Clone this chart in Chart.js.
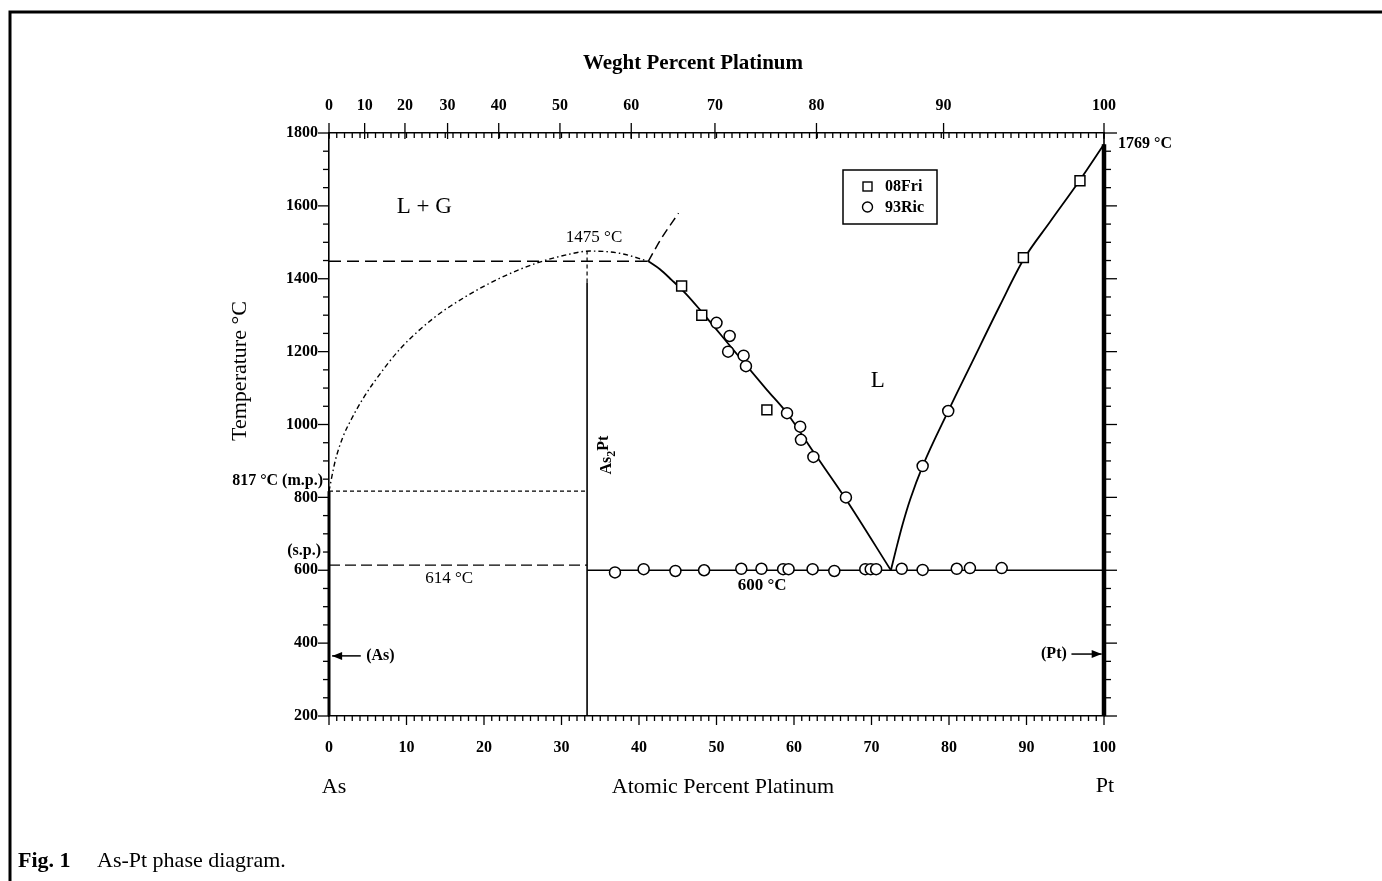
<!DOCTYPE html>
<html>
<head>
<meta charset="utf-8">
<script src="https://cdn.jsdelivr.net/npm/chart.js@4/dist/chart.umd.min.js"></script>
<style>
  html, body { margin: 0; padding: 0; background: #fff; }
</style>
</head>
<body>
<canvas id="phase" width="1382" height="881"></canvas>
<script>
// measured points (atomic % Pt, temperature °C)
const friX = [45.5, 48.1, 56.5, 89.6, 96.9];
const friT = [1380, 1300, 1040, 1458, 1669];

const ricX = [50.0, 51.7, 51.5, 53.5, 53.8, 59.1, 60.8, 60.9, 62.5, 66.7, 76.6, 79.9,
              36.9, 40.6, 44.7, 48.4, 53.2, 55.8, 58.6, 59.3, 62.4, 65.2, 69.2, 69.9, 70.6, 73.9, 76.6, 81.0, 82.7, 86.8];
const ricT = [1279, 1243, 1200, 1189, 1160, 1031, 994, 958, 911, 800, 886, 1037,
              594, 603, 598, 600, 604, 604, 603, 603, 603, 598, 603, 603, 603, 604, 601, 604, 606, 606];

// phase boundaries
const liqLeftX = [41.2, 42.7, 44.2, 46.0, 47.9, 52.2, 56.5, 59.1, 62.5, 66.7, 72.5];
const liqLeftT = [1448, 1426, 1397, 1360, 1314, 1204, 1095, 1031, 925, 795, 600];
const liqRightX = [72.5, 73.2, 74.0, 75.0, 76.6, 79.9, 83.0, 86.6, 89.6, 93.0, 96.9, 100];
const liqRightT = [600, 660, 725, 795, 886, 1037, 1172, 1328, 1452, 1555, 1671, 1769];
const gasX = [0, 0.8, 1.8, 2.9, 4.3, 5.7, 9.2, 13.5, 17.8, 22.1, 26.4, 30.7, 33.7, 37.5, 41.2];
const gasT = [817, 900, 966, 1015, 1068, 1113, 1208, 1292, 1353, 1402, 1440, 1466, 1476, 1470, 1448];
const upX = [41.2, 42.9, 45.1];
const upT = [1448, 1511, 1580];

// top axis: weight % labels and where they sit on the atomic % scale
const wtLabels = ['0', '10', '20', '30', '40', '50', '60', '70', '80', '90', '100'];
const wtPos = [0, 4.6, 9.8, 15.3, 21.9, 29.8, 39.0, 49.8, 62.9, 79.3, 100];

const serif = '"Liberation Serif", "Times New Roman", serif';
const pts = (xs, ys) => xs.map((x, i) => ({ x: x, y: ys[i] }));

function line(data, width, dash, curved) {
  return {
    type: 'scatter', data: data, showLine: true, pointRadius: 0, pointHoverRadius: 0,
    borderColor: '#000', borderWidth: width, borderDash: dash || [], clip: false,
    cubicInterpolationMode: curved ? 'monotone' : 'default', tension: curved ? 0.4 : 0
  };
}

function txt(ctx, s, X, Y, font, align, rot) {
  ctx.save();
  ctx.font = font;
  ctx.textAlign = align || 'center';
  ctx.textBaseline = 'middle';
  ctx.translate(X, Y);
  if (rot) ctx.rotate(rot);
  ctx.fillText(s, 0, 0);
  ctx.restore();
}

function arrow(ctx, x1, y1, x2, y2) {
  ctx.beginPath(); ctx.moveTo(x1, y1); ctx.lineTo(x2, y2); ctx.stroke();
  const d = Math.sign(x2 - x1);
  ctx.beginPath();
  ctx.moveTo(x2, y2); ctx.lineTo(x2 - d * 10, y2 - 4); ctx.lineTo(x2 - d * 10, y2 + 4);
  ctx.closePath(); ctx.fill();
}

const decor = {
  id: 'decor',
  afterDraw(chart) {
    const { ctx, chartArea: a, scales: { x, y } } = chart;
    const px = v => x.getPixelForValue(v);
    const py = v => y.getPixelForValue(v);
    const seg = (x1, y1, x2, y2) => { ctx.beginPath(); ctx.moveTo(x1, y1); ctx.lineTo(x2, y2); ctx.stroke(); };
    ctx.save();
    ctx.strokeStyle = '#000';
    ctx.fillStyle = '#000';

    // figure frame
    ctx.lineWidth = 3;
    ctx.beginPath(); ctx.moveTo(10, 881); ctx.lineTo(10, 12); ctx.lineTo(1382, 12); ctx.stroke();

    // tick marks
    ctx.lineWidth = 1.3;
    for (let v = 0; v <= 100; v++) {
      seg(px(v), a.bottom, px(v), a.bottom + (v % 10 === 0 ? 9 : 5));
      seg(px(v), a.top, px(v), a.top + 5);
    }
    wtPos.forEach(v => seg(px(v), a.top - 10, px(v), a.top + 6));
    for (let t = 200; t <= 1800; t += 50) {
      const major = t % 200 === 0;
      seg(a.left, py(t), a.left - (major ? 11 : 6), py(t));
      seg(a.right, py(t), a.right + (major ? 13 : 7), py(t));
    }
    ctx.lineWidth = 1.6;
    seg(a.right, a.top, a.right, a.bottom);

    // axis titles
    txt(ctx, 'Weght Percent Platinum', 693, 64, 'bold 21px ' + serif);
    txt(ctx, 'Atomic Percent Platinum', 723, 787, '22px ' + serif);
    txt(ctx, 'Temperature °C', 240, 371, '22px ' + serif, 'center', -Math.PI / 2);
    txt(ctx, 'As', px(0) + 5, 787, '22px ' + serif);
    txt(ctx, 'Pt', px(100) + 1, 786, '22px ' + serif);

    // labels inside the diagram
    txt(ctx, 'L + G', px(12.3), py(1597), '23px ' + serif);
    txt(ctx, '1475 °C', px(34.2), py(1514), '17px ' + serif);
    txt(ctx, 'L', px(70.8), py(1119), '23px ' + serif);
    txt(ctx, '614 °C', px(15.5), py(576), '17px ' + serif);
    txt(ctx, '600 °C', px(55.9), py(557), 'bold 17px ' + serif);
    txt(ctx, '817 °C (m.p.)', px(0) - 6, py(845), 'bold 16px ' + serif, 'right');
    txt(ctx, '(s.p.)', px(0) - 8, py(653), 'bold 16px ' + serif, 'right');
    txt(ctx, '1769 °C', px(100) + 14, py(1769), 'bold 16px ' + serif, 'left');
    txt(ctx, '(As)', px(4.8), py(365), 'bold 16px ' + serif, 'left');
    txt(ctx, '(Pt)', px(95.2), py(370), 'bold 16px ' + serif, 'right');
    ctx.lineWidth = 1.5;
    arrow(ctx, px(4.1), py(365), px(0.4), py(365));
    arrow(ctx, px(95.8), py(370), px(99.7), py(370));

    // As2Pt, rotated, with subscript
    ctx.save();
    ctx.translate(px(35.8), py(916));
    ctx.rotate(-Math.PI / 2);
    ctx.textBaseline = 'middle';
    ctx.textAlign = 'left';
    ctx.font = 'bold 16px ' + serif;
    const w1 = ctx.measureText('As').width;
    ctx.font = 'bold 12px ' + serif;
    const w2 = ctx.measureText('2').width;
    ctx.font = 'bold 16px ' + serif;
    const w3 = ctx.measureText('Pt').width;
    const sx = -(w1 + w2 + w3) / 2;
    ctx.fillText('As', sx, 0);
    ctx.font = 'bold 12px ' + serif;
    ctx.fillText('2', sx + w1, 5);
    ctx.font = 'bold 16px ' + serif;
    ctx.fillText('Pt', sx + w1 + w2, -3);
    ctx.restore();

    // legend
    const lx = a.left + 514, ly = a.top + 37;
    ctx.lineWidth = 1.5;
    ctx.strokeRect(lx, ly, 94, 54);
    ctx.lineWidth = 1.4;
    ctx.strokeRect(lx + 20, ly + 12, 9, 9);
    ctx.beginPath(); ctx.arc(lx + 24.5, ly + 37, 5, 0, Math.PI * 2); ctx.stroke();
    txt(ctx, '08Fri', lx + 42, ly + 17, 'bold 16px ' + serif, 'left');
    txt(ctx, '93Ric', lx + 42, ly + 38, 'bold 16px ' + serif, 'left');

    // caption
    ctx.textBaseline = 'alphabetic';
    ctx.textAlign = 'left';
    ctx.font = 'bold 22px ' + serif;
    ctx.fillText('Fig. 1', 18, 867);
    ctx.font = '22px ' + serif;
    ctx.fillText('As-Pt phase diagram.', 97, 867);
    ctx.restore();
  }
};

const ctx = document.getElementById('phase').getContext('2d');

const config = {
  type: 'scatter',
  data: {
    datasets: [
      {
        label: '08Fri', data: pts(friX, friT), pointStyle: 'rect', pointRadius: 7,
        backgroundColor: '#fff', borderColor: '#000', borderWidth: 1.5, clip: false
      },
      {
        label: '93Ric', data: pts(ricX, ricT), pointStyle: 'circle', pointRadius: 5.5,
        backgroundColor: '#fff', borderColor: '#000', borderWidth: 1.5, clip: false
      },
      line(pts(liqLeftX, liqLeftT), 1.8, [], true),
      line(pts(liqRightX, liqRightT), 1.8, [], true),
      line(pts(gasX, gasT), 1.4, [5, 3, 1.5, 3], true),
      line(pts(upX, upT), 1.5, [9, 5], true),
      line(pts([0, 41.2], [1448, 1448]), 1.4, [12, 6]),
      line(pts([33.3, 33.3], [200, 1390]), 1.6),
      line(pts([33.3, 33.3], [1390, 1476]), 1.2, [4, 3]),
      line(pts([0, 33.3], [817, 817]), 1.3, [4, 3]),
      line(pts([0, 33.3], [614, 614]), 1.4, [11, 5]),
      line(pts([33.3, 100], [600, 600]), 1.6),
      line(pts([100, 100], [200, 1769]), 4.5),
      line(pts([0, 0], [200, 817]), 3)
    ]
  },
  options: {
    responsive: false,
    animation: false,
    layout: { padding: { left: 229, right: 278, top: 83, bottom: 105 } },
    plugins: { legend: { display: false }, tooltip: { enabled: false } },
    scales: {
      x: {
        type: 'linear', position: 'bottom', min: 0, max: 100,
        grid: { display: false, drawTicks: false },
        border: { display: true, color: '#000', width: 1.6 },
        ticks: { stepSize: 10, autoSkip: false, maxRotation: 0, padding: 22, color: '#000',
                 font: { family: serif, size: 16, weight: 'bold' } },
        afterFit: s => { s.height = 60; }
      },
      x2: {
        type: 'linear', position: 'top', min: 0, max: 100,
        grid: { display: false, drawTicks: false },
        border: { display: true, color: '#000', width: 1.6 },
        afterBuildTicks: s => { s.ticks = wtPos.map(v => ({ value: v })); },
        ticks: { autoSkip: false, maxRotation: 0, padding: 18, color: '#000',
                 font: { family: serif, size: 16, weight: 'bold' },
                 callback: (v, i) => wtLabels[i] },
        afterFit: s => { s.height = 50; }
      },
      y: {
        type: 'linear', position: 'left', min: 200, max: 1800,
        grid: { display: false, drawTicks: false },
        border: { display: true, color: '#000', width: 1.6 },
        ticks: { stepSize: 200, padding: 11, color: '#000',
                 font: { family: serif, size: 16, weight: 'bold' },
                 callback: v => String(v) },
        afterFit: s => { s.width = 100; }
      }
    }
  },
  plugins: [decor]
};

const phaseChart = new Chart(ctx, config);
</script>
</body>
</html>
